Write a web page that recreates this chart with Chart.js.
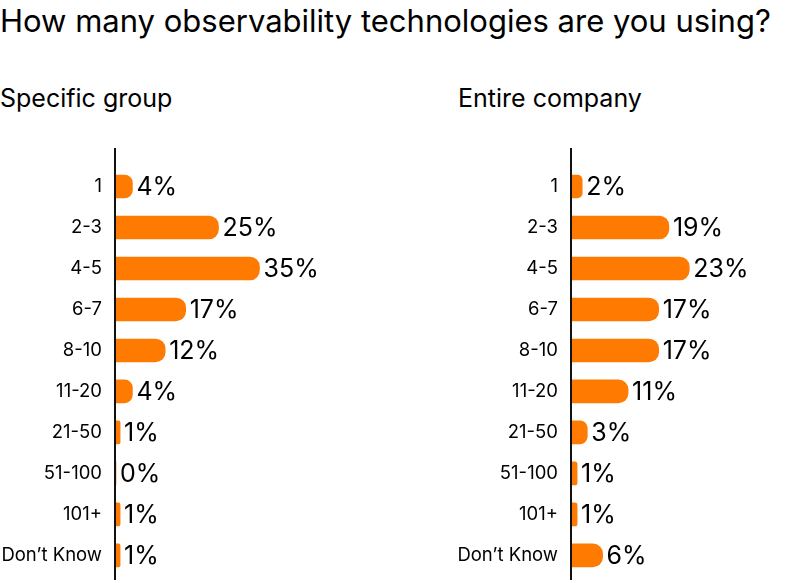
<!DOCTYPE html>
<html>
<head>
<meta charset="utf-8">
<script src="https://cdn.jsdelivr.net/npm/chart.js@4.4.1/dist/chart.umd.min.js"></script>
<style>
  html, body { margin: 0; padding: 0; background: #fff; }
  body { width: 810px; height: 583px; position: relative; overflow: hidden; font-family: Inter, "Noto Sans", sans-serif; color: #000; }
  #title { position: absolute; left: 0; top: 3px; font-size: 31px; line-height: 36px; white-space: nowrap; }
  .sub { position: absolute; top: 83px; font-size: 25px; line-height: 30px; white-space: nowrap; }
  #subL { left: 0; }
  #subR { left: 458px; }
  canvas { position: absolute; top: 140px; }
  #cL { left: 0; }
  #cR { left: 456px; }
</style>
</head>
<body>
<div id="title">How many observability technologies are you using?</div>
<div class="sub" id="subL">Specific group</div>
<div class="sub" id="subR">Entire company</div>
<canvas id="cL" width="420" height="461"></canvas>
<canvas id="cR" width="354" height="461"></canvas>
<script>
const categories = ["1", "2-3", "4-5", "6-7", "8-10", "11-20", "21-50", "51-100", "101+", "Don\u2019t Know"];
const specificGroup = [4, 25, 35, 17, 12, 4, 1, 0, 1, 1];
const entireCompany = [2, 19, 23, 17, 17, 11, 3, 1, 1, 6];
const panelTitles = ["Specific group", "Entire company"];

const BAR_COLOR = "#FF7A00";
const TEXT_COLOR = "#000000";

const valueLabels = {
  id: "valueLabels",
  afterDatasetsDraw(chart) {
    const ctx = chart.ctx;
    const meta = chart.getDatasetMeta(0);
    const data = chart.data.datasets[0].data;
    ctx.save();
    ctx.font = "25px Inter, 'Noto Sans', sans-serif";
    ctx.fillStyle = TEXT_COLOR;
    ctx.textAlign = "left";
    ctx.textBaseline = "middle";
    meta.data.forEach((bar, i) => {
      ctx.fillText(data[i] + "%", bar.x + 4, bar.y + 1);
    });
    ctx.restore();
  }
};

const axisLine = {
  id: "axisLine",
  afterDraw(chart) {
    const ctx = chart.ctx;
    const a = chart.chartArea;
    ctx.save();
    ctx.strokeStyle = "#111111";
    ctx.lineWidth = 2;
    ctx.beginPath();
    ctx.moveTo(a.left - 1, 8);
    ctx.lineTo(a.left - 1, a.bottom + 4);
    ctx.stroke();
    ctx.restore();
  }
};

function makeChart(id, values, xMax, padRight) {
  return new Chart(document.getElementById(id), {
    type: "bar",
    data: {
      labels: categories,
      datasets: [{
        data: values,
        backgroundColor: BAR_COLOR,
        borderWidth: 0,
        borderRadius: 10,
        borderSkipped: "start",
        barThickness: 23
      }]
    },
    options: {
      indexAxis: "y",
      responsive: false,
      maintainAspectRatio: false,
      animation: false,
      layout: { padding: { top: 26, bottom: 7, right: padRight, left: 0 } },
      plugins: { legend: { display: false }, tooltip: { enabled: false } },
      scales: {
        x: { display: false, min: 0, max: xMax },
        y: {
          afterFit(scale) { scale.width = 116; },
          grid: { display: false, drawTicks: false },
          border: { display: false },
          ticks: {
            padding: 14,
            color: TEXT_COLOR,
            font: { family: "Inter, 'Noto Sans', sans-serif", size: 18.5 }
          }
        }
      }
    },
    plugins: [valueLabels, axisLine]
  });
}

makeChart("cL", specificGroup, 50, 99);
makeChart("cR", entireCompany, 40, 34);
</script>
</body>
</html>
